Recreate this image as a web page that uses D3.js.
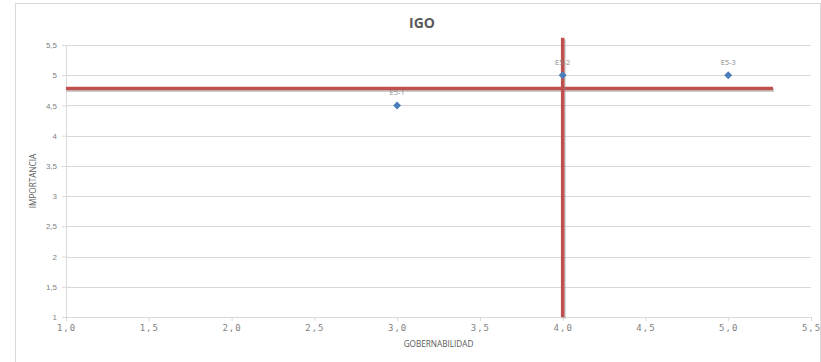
<!DOCTYPE html>
<html>
<head>
<meta charset="utf-8">
<script src="https://cdn.jsdelivr.net/npm/d3@7"></script>
<style>
  body { margin: 0; background: #fff; }
  svg { font-family: "Open Sans", "DejaVu Sans", sans-serif; }
  .grid line { stroke: #d9d9d9; stroke-width: 1; }
  .tick text { fill: #7f7f7f; }
</style>
</head>
<body>
<div id="chart"></div>
<script>
// data
const pointLabels = ['E5-1', 'E5-2', 'E5-3'];
const gobernabilidad = [3, 4, 5];
const importancia = [4.5, 5, 5];

const xTicks = [1, 1.5, 2, 2.5, 3, 3.5, 4, 4.5, 5, 5.5];
const yTicks = [1, 1.5, 2, 2.5, 3, 3.5, 4, 4.5, 5, 5.5];

// red reference lines
const hLine = [[1, 4.78], [5.27, 4.78]];
const vLine = [[4, 1], [4, 5.62]];

const W = 821, H = 362;
const margin = { top: 45, right: 10, bottom: 45, left: 66 };
const width = W - margin.left - margin.right,
  height = H - margin.top - margin.bottom;

const root = d3.select('#chart').append('svg')
  .attr('width', W)
  .attr('height', H);

// chart frame
root.append('rect')
  .attr('x', 15.5).attr('y', 3.5)
  .attr('width', 805).attr('height', 370)
  .attr('fill', 'none')
  .attr('stroke', '#d9d9d9');

root.append('text')
  .attr('x', 422).attr('y', 28)
  .attr('text-anchor', 'middle')
  .attr('font-size', 14)
  .attr('font-weight', 'bold')
  .attr('fill', '#595959')
  .text('IGO');

const svg = root.append('g')
  .attr('transform', 'translate(' + margin.left + ',' + margin.top + ')');

const x = d3.scaleLinear().domain([1, 5.5]).range([0, width]);
const y = d3.scaleLinear().domain([1, 5.5]).range([height, 0]);

// horizontal gridlines
svg.append('g')
  .attr('class', 'grid')
  .selectAll('line')
  .data(yTicks)
  .enter().append('line')
  .attr('x1', 0).attr('x2', width)
  .attr('y1', (d) => Math.round(y(d)) + 0.5)
  .attr('y2', (d) => Math.round(y(d)) + 0.5);

// y axis
const yAxis = svg.append('g')
  .call(d3.axisLeft(y).tickValues(yTicks).tickSize(4).tickPadding(5)
    .tickFormat((d) => String(d).replace('.', ',')));
yAxis.selectAll('text').attr('font-size', 8);

// x axis
const xAxis = svg.append('g')
  .attr('transform', 'translate(0,' + height + ')')
  .call(d3.axisBottom(x).tickValues(xTicks).tickSize(4).tickPadding(4)
    .tickFormat((d) => d3.format('.1f')(d).replace('.', ',')));
xAxis.selectAll('text')
  .attr('font-size', 9)
  .attr('font-family', '"DejaVu Sans Mono", monospace')
  .attr('letter-spacing', 1);

svg.selectAll('.domain, .tick line').attr('stroke', '#d9d9d9');

// axis titles
svg.append('text')
  .attr('x', width / 2).attr('y', height + 30)
  .attr('text-anchor', 'middle')
  .attr('font-size', 8.2)
  .attr('fill', '#595959')
  .text('GOBERNABILIDAD');

svg.append('text')
  .attr('transform', 'translate(-30,' + (height / 2) + ') rotate(-90)')
  .attr('text-anchor', 'middle')
  .attr('font-size', 8.2)
  .attr('fill', '#595959')
  .text('IMPORTANCIA');

// reference lines with a soft shadow
const line = d3.line().x((d) => x(d[0])).y((d) => y(d[1]));
[hLine, vLine].forEach((pts) => {
  svg.append('path')
    .attr('d', line(pts))
    .attr('transform', 'translate(1,1.5)')
    .attr('fill', 'none')
    .attr('stroke', '#8c8c8c')
    .attr('stroke-opacity', 0.45)
    .attr('stroke-width', 4);
  svg.append('path')
    .attr('d', line(pts))
    .attr('fill', 'none')
    .attr('stroke', '#c0504d')
    .attr('stroke-width', 3.5);
});

// points
const pts = pointLabels.map((label, i) => ({
  label: label, gx: gobernabilidad[i], iy: importancia[i]
}));

svg.selectAll('.pt')
  .data(pts)
  .enter().append('path')
  .attr('class', 'pt')
  .attr('d', d3.symbol().type(d3.symbolDiamond2).size(40))
  .attr('transform', (d) => 'translate(' + x(d.gx) + ',' + y(d.iy) + ')')
  .attr('fill', '#4a7ebb');

svg.selectAll('.pt-label')
  .data(pts)
  .enter().append('text')
  .attr('class', 'pt-label')
  .attr('x', (d) => x(d.gx))
  .attr('y', (d) => y(d.iy) - 10)
  .attr('text-anchor', 'middle')
  .attr('font-size', 7.5)
  .attr('fill', '#8c8c8c')
  .text((d) => d.label);
</script>
</body>
</html>
